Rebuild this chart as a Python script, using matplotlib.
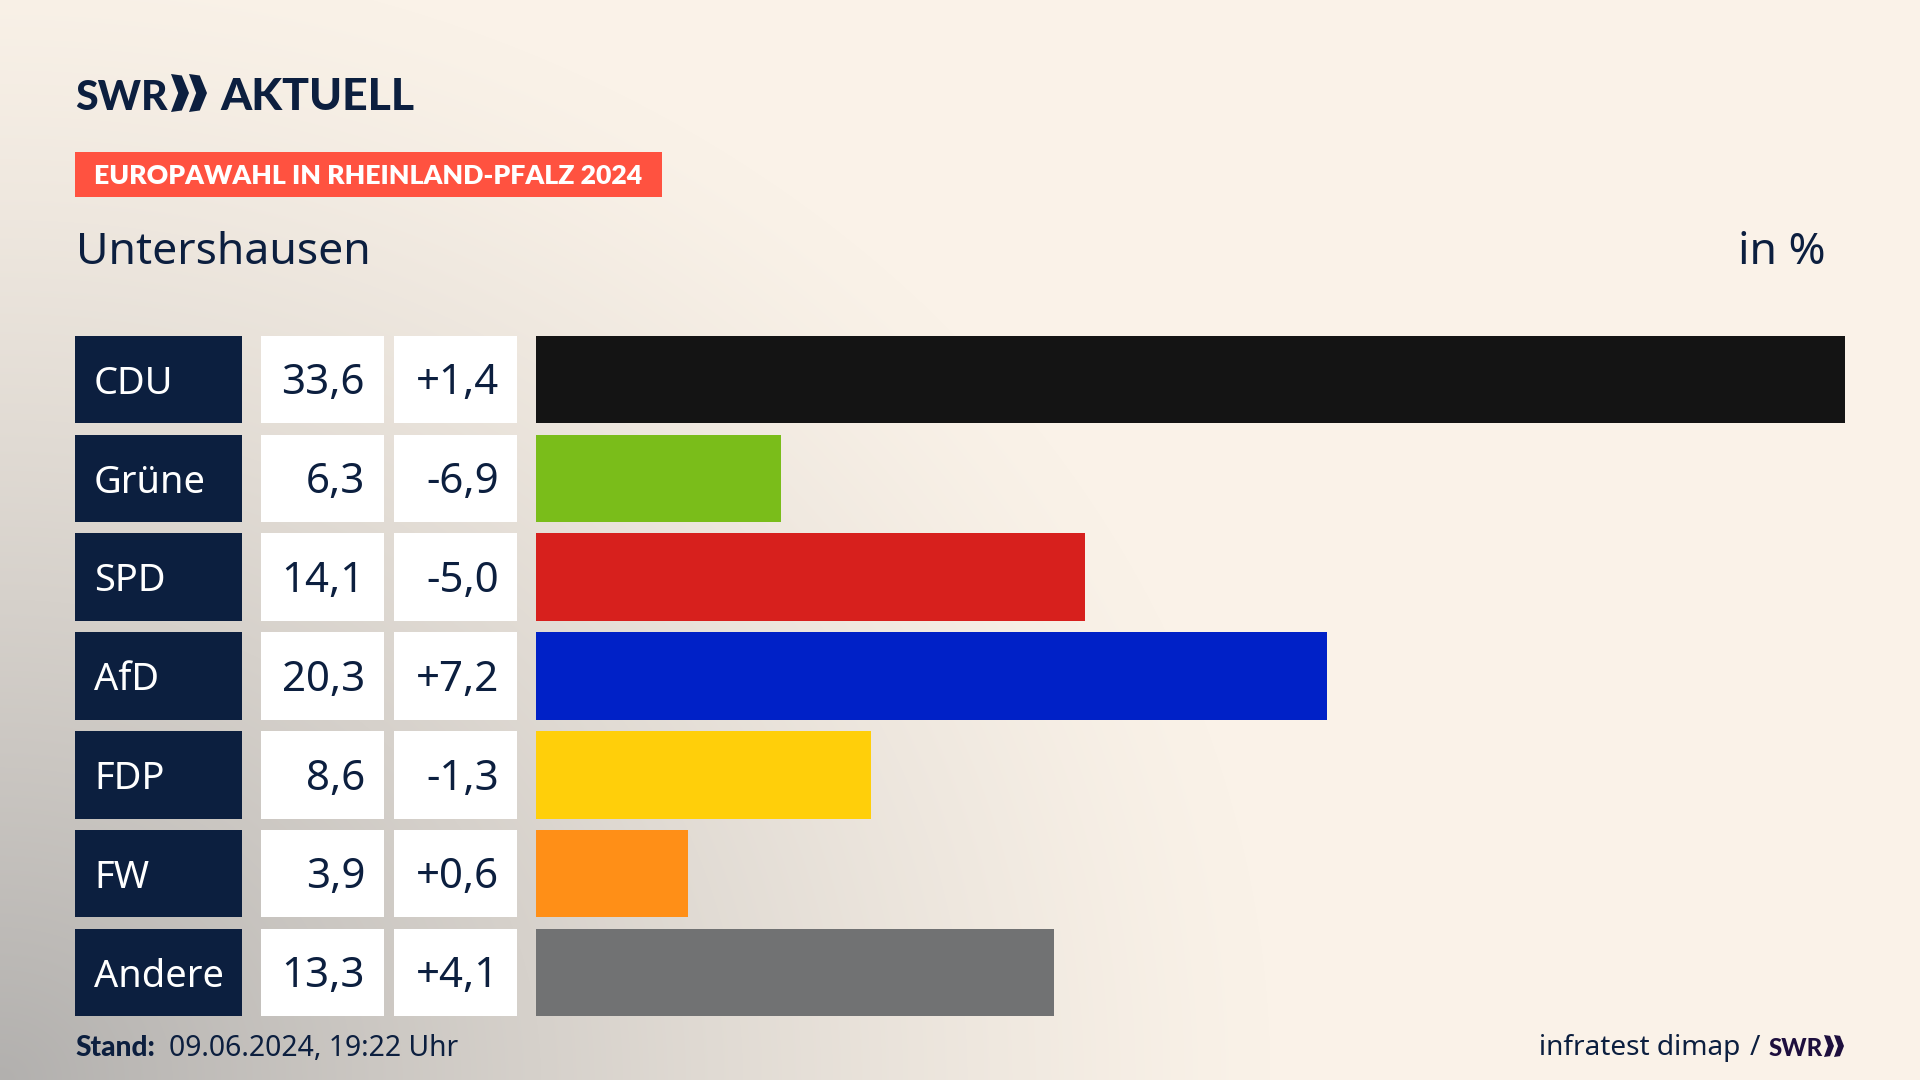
import matplotlib
matplotlib.use("Agg")
import matplotlib.pyplot as plt
import numpy as np
from matplotlib.patches import Polygon, Rectangle

parties = ["CDU", "Grüne", "SPD", "AfD", "FDP", "FW", "Andere"]
shares = [33.6, 6.3, 14.1, 20.3, 8.6, 3.9, 13.3]
changes = [1.4, -6.9, -5.0, 7.2, -1.3, 0.6, 4.1]
bar_colors = ["#141414", "#7ABD1A", "#D7201D", "#0021C7", "#FFCF0A", "#FF8F17", "#717273"]

NAVY = "#0C1F3F"
PURPLE = "#1E0F3E"
SANS = ["Noto Sans", "DejaVu Sans"]
HEAVY = ["Lato", "DejaVu Sans"]
W, H = 1920, 1080


def px(size):
    return size * 0.72


def fmt(value, signed=False):
    text = f"{value:+.1f}" if signed else f"{value:.1f}"
    return text.replace(".", ",")


def chevrons(ax, x0, x1, y0, y1, color):
    # two arrow heads of the logo
    w = (x1 - x0) * 0.5
    thick = w * 0.6
    mid = (y0 + y1) / 2
    for left in (x0, x0 + w):
        ax.add_patch(Polygon([(left, y0), (left + thick, y0 + (y1 - y0) * 0.04), (left + w, mid),
                              (left + thick, y1 - (y1 - y0) * 0.04), (left, y1), (left + w - thick, mid)],
                             closed=True, fc=color, ec="none"))


fig = plt.figure(figsize=(W / 100, H / 100), dpi=100)

# backdrop: cream with a grey glow from the lower left
yy, xx = np.mgrid[0:H, 0:W]
dist = np.sqrt((xx / 1270) ** 2 + ((H - yy) / 1130) ** 2)
glow = np.clip(1 - dist, 0, 1) ** 1.25
cream = np.array([250, 242, 232]) / 255
grey = np.array([178, 176, 174]) / 255
backdrop = cream + (grey - cream) * glow[..., None]

canvas = fig.add_axes([0, 0, 1, 1])
canvas.imshow(backdrop, extent=(0, W, H, 0), aspect="auto", zorder=0)
canvas.set_xlim(0, W)
canvas.set_ylim(H, 0)
canvas.axis("off")

# header
canvas.text(75, 110, "SWR", fontsize=px(41), family=HEAVY, fontweight=900, color=NAVY, va="baseline")
chevrons(canvas, 171, 207, 74, 112, NAVY)
canvas.text(220, 110, "AKTUELL", fontsize=px(44.5), family=HEAVY, fontweight=900, color=NAVY, va="baseline")
canvas.add_patch(Rectangle((75, 152), 587, 45, fc="#FF5240", ec="none"))
canvas.text(94, 184, "EUROPAWAHL IN RHEINLAND-PFALZ 2024", fontsize=px(26.6), family=HEAVY,
            fontweight=800, color="white", va="baseline")
canvas.text(76, 264, "Untershausen", fontsize=px(44.6), family=SANS, color=NAVY, va="baseline")
canvas.text(1826, 264, "in %", fontsize=px(44.6), family=SANS, color=NAVY, va="baseline", ha="right")

# table cells left of the bars
top0, pitch, row_h = 335.7, 98.83, 87.6
for i, (party, share, change) in enumerate(zip(parties, shares, changes)):
    top = top0 + i * pitch
    canvas.add_patch(Rectangle((75, top), 167, row_h, fc=NAVY, ec="none"))
    canvas.add_patch(Rectangle((261, top), 123, row_h, fc="white", ec="none"))
    canvas.add_patch(Rectangle((394, top), 123, row_h, fc="white", ec="none"))
    canvas.text(94, top + 58, party, fontsize=px(38), family=SANS, color="white", va="baseline")
    canvas.text(365, top + 58.5, fmt(share), fontsize=px(42), family=SANS, color=NAVY, va="baseline", ha="right")
    canvas.text(499, top + 58.5, fmt(change, signed=True), fontsize=px(42), family=SANS, color=NAVY,
                va="baseline", ha="right")

# bars
ax = fig.add_axes([536 / W, 1 - 1016.2 / H, 1309 / W, 680.5 / H])
ax.barh(range(len(parties)), shares, height=0.886, color=bar_colors)
ax.set_xlim(0, max(shares))
ax.set_ylim(len(parties) - 1 + 0.443, -0.443)
ax.axis("off")

# footer
canvas.text(75, 1056, "Stand:", fontsize=px(28), family=HEAVY, fontweight=900, color=NAVY, va="baseline")
canvas.text(169, 1056, "09.06.2024, 19:22 Uhr", fontsize=px(28.3), family=SANS, color=NAVY, va="baseline")
canvas.text(1740, 1055, "infratest dimap", fontsize=px(28), family=SANS, color=NAVY, va="baseline", ha="right")
canvas.text(1760, 1055, "/", fontsize=px(28), family=SANS, color=NAVY, va="baseline", ha="right")
canvas.text(1769, 1056, "SWR", fontsize=px(24), family=HEAVY, fontweight=900, color=PURPLE, va="baseline")
chevrons(canvas, 1824, 1844, 1035, 1057, PURPLE)

fig.savefig("out.png", dpi=100)
plt.close(fig)
